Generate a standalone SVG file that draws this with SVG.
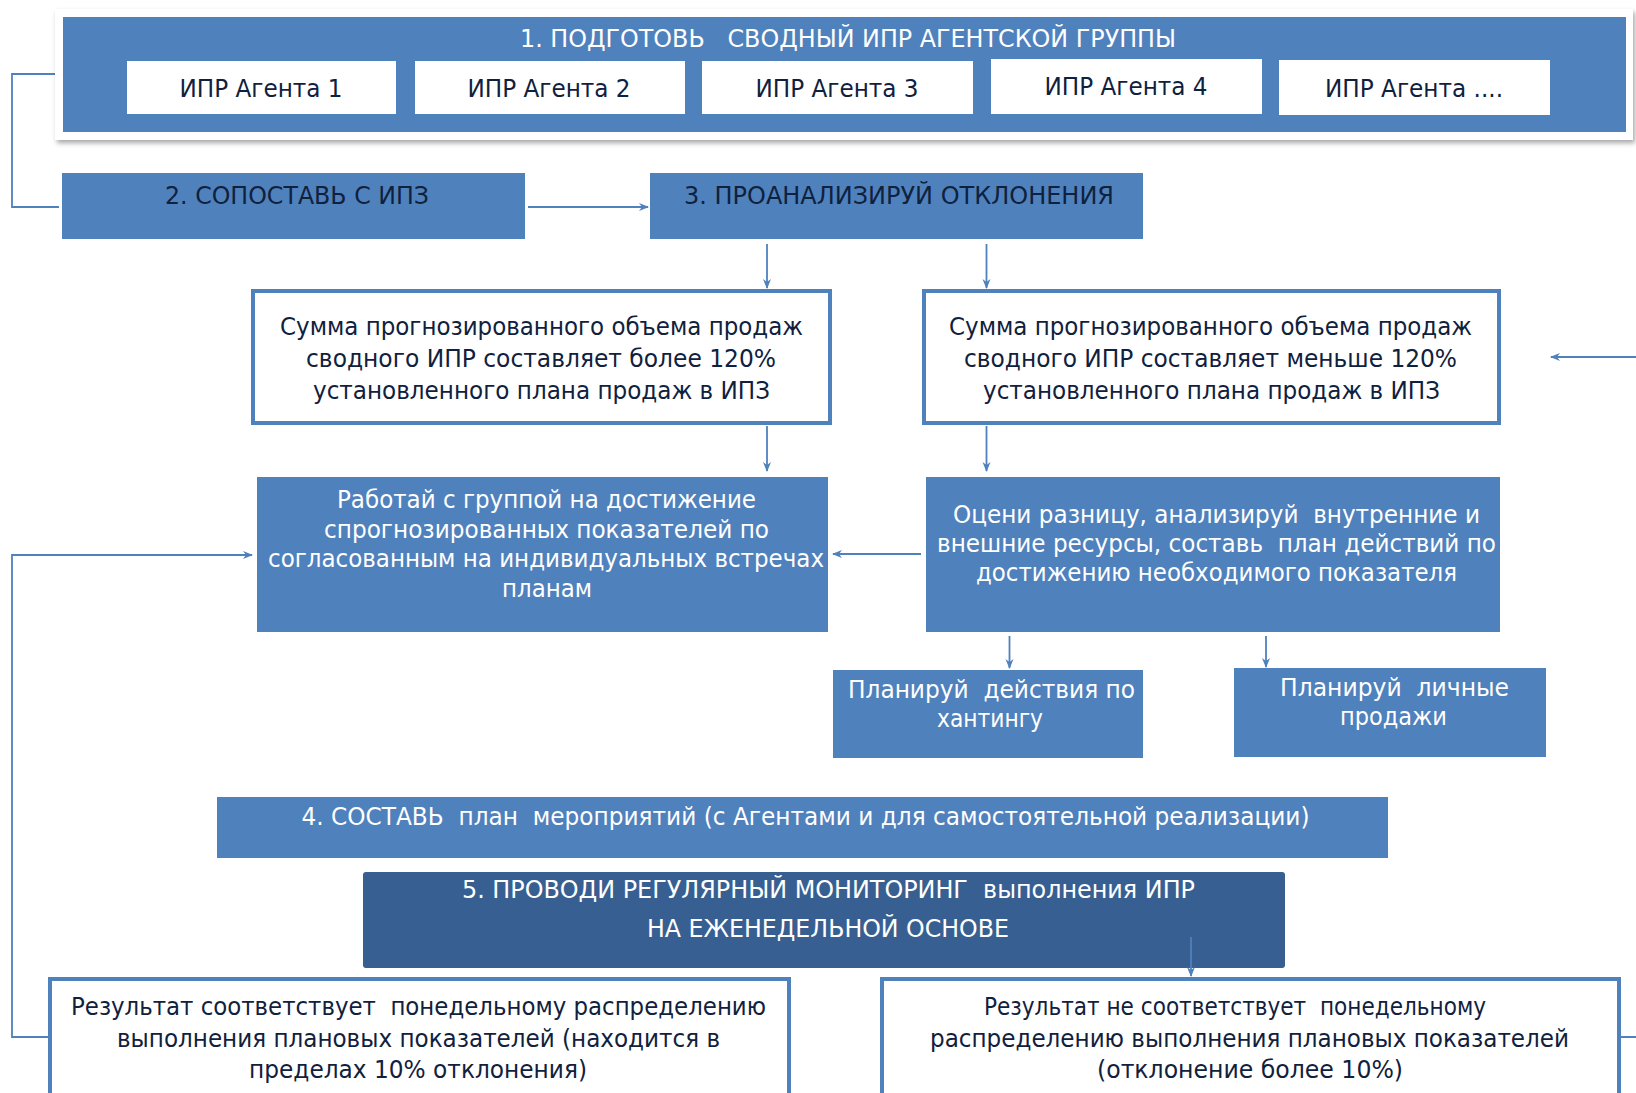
<svg xmlns="http://www.w3.org/2000/svg" width="1636" height="1093" viewBox="0 0 1636 1093" xml:space="preserve">
<style>
text{font-family:"DejaVu Sans Condensed","DejaVu Sans","Liberation Sans",sans-serif;text-anchor:middle;font-size:25px;white-space:pre}
.dk{fill:#10213d}
.wt{fill:#ffffff}
.blue{fill:#4f81bd}
.navy{fill:#385f91}
.wbox{fill:#ffffff;stroke:#4f81bd;stroke-width:4}
.agent{fill:#ffffff}
.conn{fill:none;stroke:#4f81bd;stroke-width:1.8}
</style>
<defs>
<marker id="ah" viewBox="0 0 10 10" refX="9" refY="5" markerWidth="10" markerHeight="10" markerUnits="userSpaceOnUse" orient="auto">
<path d="M0,1 L10,5 L0,9 L3,5 z" fill="#4f81bd"/>
</marker>
<filter id="sh" x="-5%" y="-20%" width="110%" height="150%">
<feDropShadow dx="2" dy="3" stdDeviation="2.5" flood-color="#000" flood-opacity="0.35"/>
</filter>
</defs>
<rect width="1636" height="1093" fill="#ffffff"/>

<g id="connectors">
<path class="conn" d="M59 74 H12 V207 H59"/>
<path class="conn" d="M528 207 H648" marker-end="url(#ah)"/>
<path class="conn" d="M767 244 V288" marker-end="url(#ah)"/>
<path class="conn" d="M986.5 244 V288" marker-end="url(#ah)"/>
<path class="conn" d="M767 426 V471" marker-end="url(#ah)"/>
<path class="conn" d="M986.5 426 V471" marker-end="url(#ah)"/>
<path class="conn" d="M921 554 H833" marker-end="url(#ah)"/>
<path class="conn" d="M49 1037 H12 V555 H252" marker-end="url(#ah)"/>
<path class="conn" d="M1620 1037 H1660 V357 H1551" marker-end="url(#ah)"/>
<path class="conn" d="M1009.5 636 V668" marker-end="url(#ah)"/>
<path class="conn" d="M1266 636 V667" marker-end="url(#ah)"/>
</g>

<g id="n1">
<rect x="55" y="9" width="1578" height="131" fill="#ffffff" filter="url(#sh)"/>
<rect class="blue" x="63" y="17" width="1563" height="115"/>
<text class="wt" x="848" y="47" textLength="656" lengthAdjust="spacingAndGlyphs">1. ПОДГОТОВЬ   СВОДНЫЙ ИПР АГЕНТСКОЙ ГРУППЫ</text>
</g>
<g id="agent1"><rect class="agent" x="127" y="61" width="269" height="53"/><text class="dk" x="261" y="97" font-size="24" textLength="163" lengthAdjust="spacingAndGlyphs">ИПР Агента 1</text></g>
<g id="agent2"><rect class="agent" x="415" y="61" width="270" height="53"/><text class="dk" x="549" y="97" font-size="24" textLength="163" lengthAdjust="spacingAndGlyphs">ИПР Агента 2</text></g>
<g id="agent3"><rect class="agent" x="702" y="61" width="271" height="53"/><text class="dk" x="837" y="97" font-size="24" textLength="163" lengthAdjust="spacingAndGlyphs">ИПР Агента 3</text></g>
<g id="agent4"><rect class="agent" x="991" y="59" width="271" height="55"/><text class="dk" x="1126" y="95" font-size="24" textLength="163" lengthAdjust="spacingAndGlyphs">ИПР Агента 4</text></g>
<g id="agent5"><rect class="agent" x="1279" y="60" width="271" height="55"/><text class="dk" x="1414" y="97" font-size="24" textLength="178" lengthAdjust="spacingAndGlyphs">ИПР Агента ....</text></g>

<g id="n2">
<rect class="blue" x="62" y="173" width="463" height="66"/>
<text class="dk" x="297" y="204" textLength="264" lengthAdjust="spacingAndGlyphs">2. СОПОСТАВЬ С ИПЗ</text>
</g>
<g id="n3">
<rect class="blue" x="650" y="173" width="493" height="66"/>
<text class="dk" x="899" y="204" textLength="430" lengthAdjust="spacingAndGlyphs">3. ПРОАНАЛИЗИРУЙ ОТКЛОНЕНИЯ</text>
</g>

<g id="nA">
<rect class="wbox" x="253" y="291" width="577" height="132"/>
<text class="dk" x="541.5" y="335" textLength="523" lengthAdjust="spacingAndGlyphs">Сумма прогнозированного объема продаж</text>
<text class="dk" x="541" y="367" textLength="470" lengthAdjust="spacingAndGlyphs">сводного ИПР составляет более 120%</text>
<text class="dk" x="541.5" y="399" textLength="457" lengthAdjust="spacingAndGlyphs">установленного плана продаж в ИПЗ</text>
</g>
<g id="nB">
<rect class="wbox" x="924" y="291" width="575" height="132"/>
<text class="dk" x="1210.5" y="335" textLength="523" lengthAdjust="spacingAndGlyphs">Сумма прогнозированного объема продаж</text>
<text class="dk" x="1210.5" y="367" textLength="493" lengthAdjust="spacingAndGlyphs">сводного ИПР составляет меньше 120%</text>
<text class="dk" x="1211.5" y="399" textLength="457" lengthAdjust="spacingAndGlyphs">установленного плана продаж в ИПЗ</text>
</g>

<g id="nC">
<rect class="blue" x="257" y="477" width="571" height="155"/>
<text class="wt" x="546.5" y="508" textLength="419" lengthAdjust="spacingAndGlyphs">Работай с группой на достижение</text>
<text class="wt" x="546.5" y="538" textLength="445" lengthAdjust="spacingAndGlyphs">спрогнозированных показателей по</text>
<text class="wt" x="546" y="567" textLength="556" lengthAdjust="spacingAndGlyphs">согласованным на индивидуальных встречах</text>
<text class="wt" x="547" y="597" textLength="90" lengthAdjust="spacingAndGlyphs">планам</text>
</g>
<g id="nD">
<rect class="blue" x="926" y="477" width="574" height="155"/>
<text class="wt" x="1216.5" y="523" textLength="527" lengthAdjust="spacingAndGlyphs">Оцени разницу, анализируй  внутренние и</text>
<text class="wt" x="1216.5" y="552" textLength="559" lengthAdjust="spacingAndGlyphs">внешние ресурсы, составь  план действий по</text>
<text class="wt" x="1216.5" y="581" textLength="481" lengthAdjust="spacingAndGlyphs">достижению необходимого показателя</text>
</g>

<g id="nE">
<rect class="blue" x="833" y="670" width="310" height="88"/>
<text class="wt" x="991.5" y="698" textLength="287" lengthAdjust="spacingAndGlyphs">Планируй  действия по</text>
<text class="wt" x="990" y="727" textLength="106" lengthAdjust="spacingAndGlyphs">хантингу</text>
</g>
<g id="nF">
<rect class="blue" x="1234" y="668" width="312" height="89"/>
<text class="wt" x="1394.5" y="696" textLength="229" lengthAdjust="spacingAndGlyphs">Планируй  личные</text>
<text class="wt" x="1393.5" y="725" textLength="107" lengthAdjust="spacingAndGlyphs">продажи</text>
</g>

<g id="n4">
<rect class="blue" x="217" y="797" width="1171" height="61"/>
<text class="wt" x="805.5" y="825" textLength="1008" lengthAdjust="spacingAndGlyphs">4. СОСТАВЬ  план  мероприятий (с Агентами и для самостоятельной реализации)</text>
</g>
<g id="n5">
<rect class="navy" x="363" y="872" width="922" height="96" rx="3"/>
<text class="wt" x="828.5" y="898" textLength="733" lengthAdjust="spacingAndGlyphs">5. ПРОВОДИ РЕГУЛЯРНЫЙ МОНИТОРИНГ  выполнения ИПР</text>
<text class="wt" x="828" y="937" textLength="362" lengthAdjust="spacingAndGlyphs">НА ЕЖЕНЕДЕЛЬНОЙ ОСНОВЕ</text>
</g>
<path class="conn" d="M1191 937 V976" marker-end="url(#ah)"/>

<g id="nG">
<rect class="wbox" x="50" y="979" width="739" height="130"/>
<text class="dk" x="418.5" y="1015" textLength="695" lengthAdjust="spacingAndGlyphs">Результат соответствует  понедельному распределению</text>
<text class="dk" x="418.5" y="1047" textLength="603" lengthAdjust="spacingAndGlyphs">выполнения плановых показателей (находится в</text>
<text class="dk" x="418" y="1078" textLength="338" lengthAdjust="spacingAndGlyphs">пределах 10% отклонения)</text>
</g>
<g id="nH">
<rect class="wbox" x="882" y="979" width="737" height="130"/>
<text class="dk" x="1235" y="1015" textLength="502" lengthAdjust="spacingAndGlyphs">Результат не соответствует  понедельному</text>
<text class="dk" x="1249.5" y="1047" textLength="639" lengthAdjust="spacingAndGlyphs">распределению выполнения плановых показателей</text>
<text class="dk" x="1250" y="1078" textLength="306" lengthAdjust="spacingAndGlyphs">(отклонение более 10%)</text>
</g>
</svg>
